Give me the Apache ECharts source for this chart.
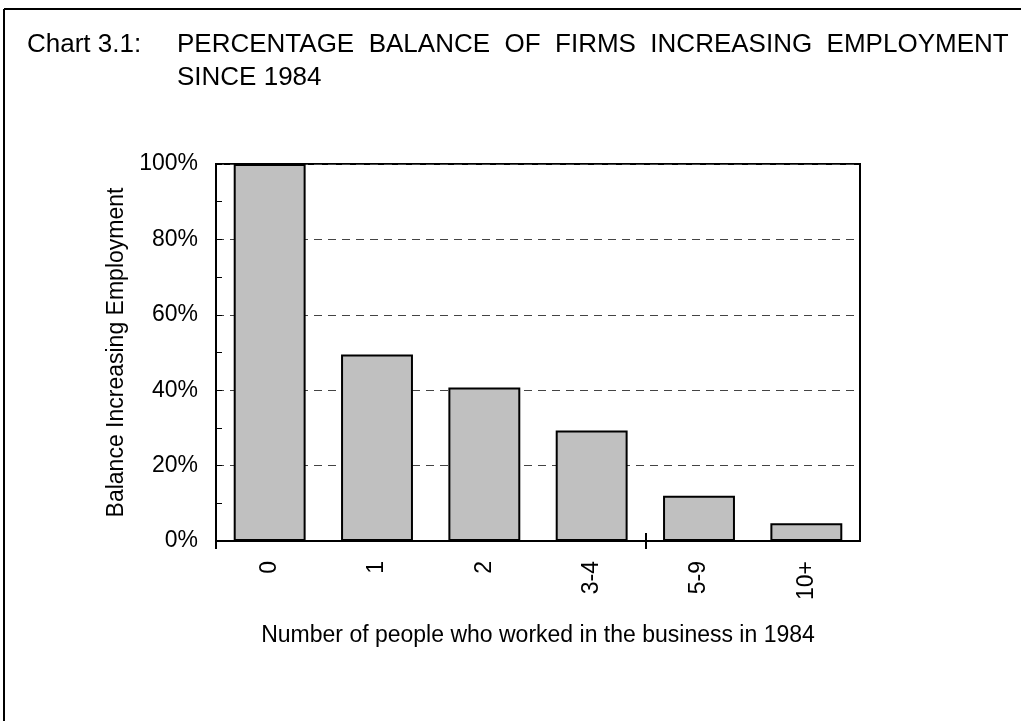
<!DOCTYPE html>
<html>
<head>
<meta charset="utf-8">
<script src="https://cdn.jsdelivr.net/npm/echarts@6/dist/echarts.min.js"></script>
<style>
  html, body { margin: 0; padding: 0; background: #fff; }
  #chart-container { width: 1021px; height: 721px; }
</style>
</head>
<body>
<div id="chart-container"></div>
<script>
let categories = ["0", "1", "2", "3-4", "5-9", "10+"];
let balance = [100, 49.5, 40.7, 29.3, 12.0, 4.7];
let yTicks = [0, 20, 40, 60, 80, 100];
// category boundaries that carry an x tick in the original
let xTickBounds = [0, 4];

let dom = document.getElementById("chart-container");
let myChart = echarts.init(dom, null, {
    renderer: "canvas",
    useDirtyRect: false,
});
let font = "Liberation Sans, Arial, sans-serif";

function tickAxis(values, inside) {
    return {
        type: "value",
        min: 0,
        max: categories.length,
        position: "bottom",
        offset: 0,
        axisLine: { show: false },
        axisLabel: { show: false },
        splitLine: { show: false },
        axisTick: {
            show: true,
            inside: inside,
            length: 8,
            customValues: values,
            lineStyle: { color: "#000", width: 2 },
        },
    };
}

let option = {
    animation: false,
    textStyle: { fontFamily: font },
    title: [{
        text: "Chart 3.1:",
        left: 22,
        top: 23,
        textStyle: { fontSize: 26, fontWeight: "normal", color: "#000", fontFamily: font, lineHeight: 33 },
    }, {
        text: "PERCENTAGE  BALANCE  OF  FIRMS  INCREASING  EMPLOYMENT\nSINCE 1984",
        left: 172,
        top: 23,
        textStyle: { fontSize: 26, fontWeight: "normal", color: "#000", fontFamily: font, lineHeight: 33 },
    }],
    graphic: [{
        type: "line",
        shape: { x1: 4, y1: 9, x2: 1021, y2: 9 },
        style: { stroke: "#000", lineWidth: 2 },
    }, {
        type: "line",
        shape: { x1: 4, y1: 9, x2: 4, y2: 721 },
        style: { stroke: "#000", lineWidth: 2 },
    }],
    grid: {
        left: 216,
        top: 164,
        width: 644,
        height: 377,
        show: true,
        borderColor: "#000",
        borderWidth: 2,
    },
    xAxis: [{
        type: "category",
        data: categories,
        position: "bottom",
        name: "Number of people who worked in the business in 1984",
        nameLocation: "middle",
        nameGap: 83,
        nameTextStyle: { fontSize: 23, color: "#000", fontFamily: font },
        axisLine: { lineStyle: { color: "#000", width: 2 } },
        axisTick: { show: false },
        axisLabel: {
            rotate: 90,
            margin: 20,
            fontSize: 23,
            color: "#000",
            fontFamily: font,
            interval: 0,
        },
    },
    tickAxis(xTickBounds, false),
    tickAxis(xTickBounds.slice(1), true),
    ],
    yAxis: {
        type: "value",
        min: 0,
        max: 100,
        interval: 20,
        name: "Balance Increasing Employment",
        nameLocation: "middle",
        nameGap: 88,
        nameTextStyle: { fontSize: 23, color: "#000", fontFamily: font },
        axisLine: { show: true, lineStyle: { color: "#000", width: 2 } },
        axisTick: { show: true, inside: true, length: 6, lineStyle: { color: "#000", width: 1 } },
        minorTick: { show: true, splitNumber: 2, length: 6, lineStyle: { color: "#000", width: 1 } },
        axisLabel: {
            fontSize: 23,
            color: "#000",
            fontFamily: font,
            margin: 18,
            formatter: function (v) { return yTicks.indexOf(v) >= 0 ? v + "%" : ""; },
        },
        splitLine: {
            show: true,
            lineStyle: { color: "#444", type: [8, 6], width: 1 },
        },
    },
    series: [{
        type: "bar",
        data: balance,
        barCategoryGap: "33%",
        itemStyle: { color: "#c0c0c0", borderColor: "#000", borderWidth: 2 },
    }],
};

if (option && typeof option === "object") {
    myChart.setOption(option);
}

window.addEventListener("resize", myChart.resize);
</script>
</body>
</html>
